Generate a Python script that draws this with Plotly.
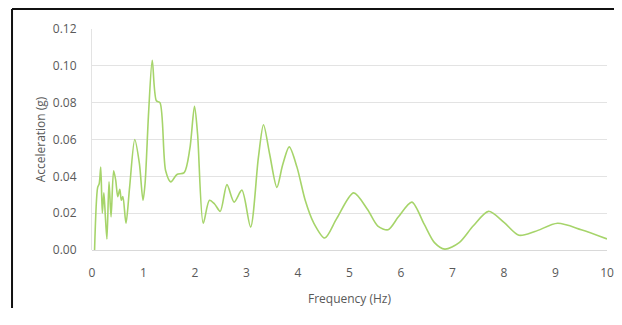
import plotly.graph_objects as go

freq = [0.05, 0.11, 0.14, 0.17, 0.20, 0.23, 0.26, 0.29, 0.33, 0.37, 0.42, 0.46, 0.50, 0.54, 0.57, 0.60, 0.66,
        0.73, 0.83, 0.92, 0.99, 1.03, 1.10, 1.17, 1.25, 1.32, 1.43, 1.53, 1.65, 1.79, 1.90, 1.99, 2.05, 2.16,
        2.28, 2.38, 2.49, 2.62, 2.76, 2.91, 3.08, 3.23, 3.33, 3.45, 3.59, 3.70, 3.83, 3.98, 4.14, 4.30, 4.52,
        4.75, 5.08, 5.35, 5.55, 5.75, 5.95, 6.21, 6.45, 6.65, 6.85, 7.13, 7.40, 7.70, 8.00, 8.29, 8.60, 9.04,
        9.50, 10.0]
accel = [0.000, 0.034, 0.036, 0.045, 0.020, 0.031, 0.018, 0.006, 0.037, 0.018, 0.043, 0.038, 0.029, 0.033, 0.027, 0.029, 0.0145,
         0.034, 0.060, 0.047, 0.027, 0.036, 0.075, 0.103, 0.081, 0.080, 0.043, 0.037, 0.041, 0.042, 0.055, 0.078, 0.063, 0.0145,
         0.027, 0.025, 0.021, 0.0355, 0.026, 0.0325, 0.0125, 0.050, 0.068, 0.052, 0.034, 0.046, 0.056, 0.045, 0.027, 0.015, 0.0065,
         0.017, 0.031, 0.022, 0.013, 0.011, 0.018, 0.026, 0.014, 0.004, 0.0005, 0.004, 0.013, 0.021, 0.015, 0.008, 0.010, 0.0145,
         0.011, 0.006]

x_ticks = [0, 1, 2, 3, 4, 5, 6, 7, 8, 9, 10]
y_ticks = [0.00, 0.02, 0.04, 0.06, 0.08, 0.10, 0.12]

font_family = "Liberation Sans Narrow, Open Sans, sans-serif"
txt = "#595959"

fig = go.Figure()
fig.add_trace(go.Scatter(
    x=freq, y=accel, mode="lines",
    line=dict(color="#a6d46a", width=1.6, shape="spline", smoothing=0.8),
    showlegend=False, hoverinfo="skip"))

border = dict(color="#111111", width=2)
fig.update_layout(
    width=606, height=300,
    margin=dict(l=84, r=7, t=21, b=58),
    paper_bgcolor="white", plot_bgcolor="white",
    font=dict(family=font_family, size=12, color=txt),
    xaxis=dict(range=[0, 10], tickvals=x_ticks, ticktext=[str(t) for t in x_ticks],
               showgrid=False, zeroline=False, showline=False, ticks="",
               ticklabelstandoff=14, automargin=False,
               title=dict(text="Frequency (Hz)", font=dict(size=12, color=txt), standoff=14),
               tickfont=dict(size=12, color=txt)),
    yaxis=dict(range=[0, 0.12], tickvals=y_ticks, ticktext=[f"{t:.2f}" for t in y_ticks],
               showgrid=True, gridcolor="#e3e3e3", gridwidth=1,
               zeroline=True, zerolinecolor="#d9d9d9", zerolinewidth=1,
               showline=True, linecolor="#e3e3e3", linewidth=1, ticks="",
               ticklabelstandoff=12, automargin=False,
               title=dict(text="Acceleration (g)", font=dict(size=12, color=txt), standoff=4),
               tickfont=dict(size=12, color=txt)),
    shapes=[
        dict(type="line", xref="paper", yref="paper",
             x0=-0.1553, y0=-0.40, x1=-0.1553, y1=1.0905, line=border),
        dict(type="line", xref="paper", yref="paper",
             x0=-0.1553, y0=1.0905, x1=1.15, y1=1.0905, line=border),
    ],
)

fig.write_html("out.html", config={"displayModeBar": False})
